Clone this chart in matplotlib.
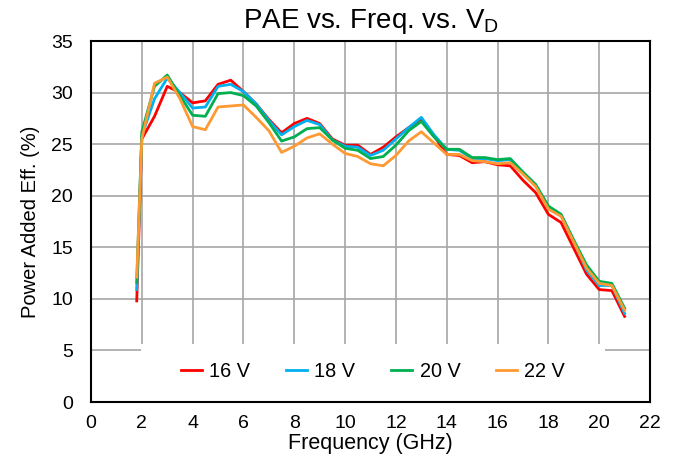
import matplotlib
matplotlib.use("Agg")
import matplotlib.pyplot as plt
from matplotlib.patches import Rectangle

plt.rcParams['font.family'] = ['Liberation Sans', 'DejaVu Sans']
plt.rcParams['mathtext.fontset'] = 'custom'
plt.rcParams['mathtext.rm'] = 'Liberation Sans'
plt.rcParams['mathtext.it'] = 'Liberation Sans'

freq = [1.8, 2.0, 2.5, 3.0, 3.5, 4.0, 4.5, 5.0, 5.5, 6.0, 6.5, 7.0, 7.5, 8.0, 8.5,
        9.0, 9.5, 10.0, 10.5, 11.0, 11.5, 12.0, 12.5, 13.0, 13.5, 14.0, 14.5, 15.0,
        15.5, 16.0, 16.5, 17.0, 17.5, 18.0, 18.5, 19.0, 19.5, 20.0, 20.5, 21.0]

pae_16v = [9.8, 25.5, 27.7, 30.6, 30.0, 29.0, 29.2, 30.8, 31.2, 30.1, 28.9, 27.4, 26.1,
           27.0, 27.5, 27.0, 25.5, 24.9, 24.9, 24.0, 24.7, 25.7, 26.6, 27.4, 25.8, 24.0,
           23.9, 23.2, 23.3, 23.0, 22.9, 21.5, 20.3, 18.2, 17.4, 14.9, 12.4, 10.9, 10.8, 8.3]
pae_18v = [10.9, 25.8, 29.4, 31.4, 30.0, 28.5, 28.6, 30.6, 30.8, 30.1, 28.9, 27.3, 25.9,
           26.7, 27.3, 26.9, 25.4, 24.8, 24.7, 23.9, 24.4, 25.5, 26.6, 27.6, 25.9, 24.5,
           24.4, 23.6, 23.6, 23.4, 23.5, 22.2, 21.0, 18.9, 18.1, 15.6, 12.8, 11.3, 11.3, 8.6]
pae_20v = [11.6, 26.2, 30.6, 31.7, 29.7, 27.8, 27.7, 29.9, 30.0, 29.7, 28.7, 27.1, 25.3,
           25.7, 26.5, 26.6, 25.4, 24.6, 24.4, 23.6, 23.8, 24.9, 26.3, 27.2, 25.7, 24.5,
           24.5, 23.7, 23.7, 23.5, 23.6, 22.3, 21.1, 19.0, 18.2, 15.7, 13.3, 11.7, 11.5, 9.1]
pae_22v = [12.1, 25.5, 30.9, 31.5, 29.4, 26.7, 26.4, 28.6, 28.7, 28.8, 27.6, 26.3, 24.2,
           24.8, 25.6, 26.0, 25.0, 24.1, 23.8, 23.1, 22.9, 23.9, 25.3, 26.2, 25.1, 24.0,
           24.0, 23.4, 23.3, 23.1, 23.2, 22.1, 20.9, 18.7, 18.0, 15.5, 13.0, 11.5, 11.3, 8.9]

labels = ["16 V", "18 V", "20 V", "22 V"]
colors = ["#ff0000", "#00b0f0", "#00b050", "#ff9933"]
series = [pae_16v, pae_18v, pae_20v, pae_22v]

x_ticks = list(range(0, 23, 2))
y_ticks = list(range(0, 36, 5))

fig = plt.figure(figsize=(6.76, 4.65), dpi=100)
ax = fig.add_axes([91/676, 1 - 402/465, (650-91)/676, (402-41)/465])

for ys, lab, c in zip(series, labels, colors):
    ax.plot(freq, ys, color=c, lw=2, label=lab, zorder=3)

ax.set_xlim(0, 22)
ax.set_ylim(0, 35)
ax.set_xticks(x_ticks)
ax.set_yticks(y_ticks)
ax.tick_params(length=0, labelsize=14)
ax.tick_params(axis='y', pad=13)
ax.tick_params(axis='x', pad=9)
ax.grid(True, color="#a6a6a6", lw=1.2)
ax.set_axisbelow(True)
for s in ax.spines.values():
    s.set_color("black")
    s.set_linewidth(1.5)

# white backing for the legend area (hides the grid)
ax.add_patch(Rectangle((50/559, 0.0), 464/559, 58/361, transform=ax.transAxes,
                       facecolor="white", edgecolor="none", zorder=1))

ax.set_xlabel("Frequency (GHz)", fontsize=15.5, labelpad=1)
ax.set_ylabel("Power Added Eff. (%)", fontsize=14.5, labelpad=8)
ax.set_title(r"PAE vs. Freq. vs. V$_\mathrm{D}$", fontsize=20, pad=9)

leg = ax.legend(loc="center", bbox_to_anchor=(282/559, 31/361),
                ncol=4, fontsize=14.3, frameon=False,
                handlelength=1.06, handletextpad=0.37, columnspacing=1.8)

fig.savefig("out.png", dpi=100)
